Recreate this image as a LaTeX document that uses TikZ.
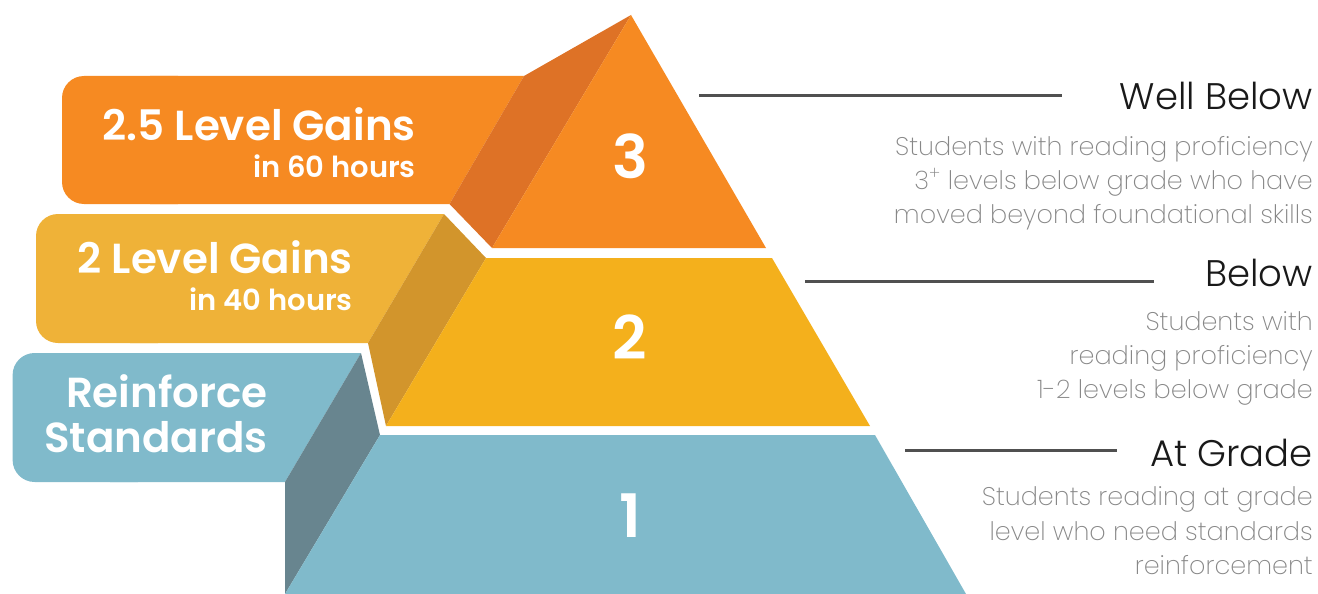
\documentclass[tikz,border=0pt]{standalone}
\usepackage{fontspec}
\usepackage{tikz}
\usetikzlibrary{positioning}
\newfontfamily\gainfont{Poppins}[UprightFont={* SemiBold}]
\newfontfamily\thinfont{Poppins}[UprightFont={* Light}]
\newfontfamily\hairfont{Poppins}[UprightFont={* ExtraLight}]
\definecolor{pyOrange}{RGB}{246,138,34}
\definecolor{pyOrangeDk}{RGB}{222,114,38}
\definecolor{pyYellow}{RGB}{244,176,28}
\definecolor{pyYellowBox}{RGB}{239,178,56}
\definecolor{pyYellowDk}{RGB}{210,149,44}
\definecolor{pyTeal}{RGB}{128,186,203}
\definecolor{pyTealDk}{RGB}{104,133,143}
\definecolor{pyLine}{RGB}{80,80,80}
\definecolor{pyGray}{RGB}{135,135,135}
\definecolor{pyInk}{RGB}{25,25,25}
\tikzset{
    gain/.style={font=\gainfont\fontsize{42}{44}\selectfont, text=white, inner sep=0pt, anchor=base east},
    hours/.style={font=\gainfont\fontsize{29}{31}\selectfont, text=white, inner sep=0pt, anchor=base east},
    tiernum/.style={font=\gainfont\fontsize{60}{60}\selectfont, text=white, inner sep=0pt},
    heading/.style={font=\thinfont\fontsize{37}{40}\selectfont, text=pyInk, inner sep=0pt, anchor=base east},
    blurb/.style={font=\hairfont\fontsize{25.5}{28}\selectfont, text=pyGray, inner sep=0pt, anchor=base east},
    leader/.style={draw=pyLine, line width=3pt},
    tab/.style={rounded corners=22pt}
}
\begin{document}
\begin{tikzpicture}[x=1pt, y=-1pt]
  \useasboundingbox (0,0) rectangle (1318,594);

  % Tabs on the left
  \fill[pyOrange, tab] (62,76) rectangle (200,204);
  \fill[pyOrange] (150,76) -- (524,76) -- (449.5,204) -- (150,204) -- cycle;
  \fill[pyYellowBox, tab] (36,214) rectangle (180,343);
  \fill[pyYellowBox] (130,214) -- (444,214) -- (368,343) -- (130,343) -- cycle;
  \fill[pyTeal, tab] (12.6,353) rectangle (160,482);
  \fill[pyTeal] (110,353) -- (361,353) -- (285,482) -- (110,482) -- cycle;

  % Side faces
  \fill[pyOrangeDk] (524,76) -- (631,15) -- (492,248) -- (449.5,204) -- cycle;
  \fill[pyYellowDk] (444,214) -- (486,258) -- (386,426) -- (368,343) -- cycle;
  \fill[pyTealDk] (361,353) -- (380,435) -- (285,594) -- (285,482) -- cycle;

  % Front faces
  \fill[pyOrange] (631,15) -- (766,248) -- (492,248) -- cycle;
  \fill[pyYellow] (486,258) -- (772,258) -- (870,426) -- (386,426) -- cycle;
  \fill[pyTeal] (380,435) -- (875,435) -- (966,594) -- (285,594) -- cycle;

  % Tier numbers
  \node[tiernum] (n3) at (630,156) {3};
  \node[tiernum] (n2) at (630,337) {2};
  \node[tiernum] (n1) at (630,516) {1};

  % Tab labels
  \node[gain] (g3) at (416,140) {2.5 Level Gains};
  \node[hours] (h3) at (416,177) {in 60 hours};
  \node[gain] (g2) at (353,273) {2 Level Gains};
  \node[hours] (h2) at (353,310) {in 40 hours};
  \node[gain] (r1) at (268,407) {Reinforce};
  \node[gain] (s1) at (268,452) {Standards};

  % Headings and leaders
  \node[heading] (wb) at (1313,110) {Well Below};
  \node[heading] (bl) at (1313,286) {Below};
  \node[heading] (ag) at (1313,466) {At Grade};
  \coordinate (wbL) at (699,96);
  \coordinate (wbR) at (1062,96);
  \coordinate (blL) at (805,281);
  \coordinate (blR) at (1154,281);
  \coordinate (agL) at (905,450);
  \coordinate (agR) at (1117,450);
  \draw[leader] (wbL) -- (wbR);
  \draw[leader] (blL) -- (blR);
  \draw[leader] (agL) -- (agR);

  % Descriptions
  \node[blurb] (wb1) at (1313,155) {Students with reading proficiency};
  \node[blurb] (wb2) at (1313,189) {3\textsuperscript{+} levels below grade who have};
  \node[blurb] (wb3) at (1313,223) {moved beyond foundational skills};
  \node[blurb] (bl1) at (1313,330) {Students with};
  \node[blurb] (bl2) at (1313,364) {reading proficiency};
  \node[blurb] (bl3) at (1313,398) {1-2 levels below grade};
  \node[blurb] (ag1) at (1313,505) {Students reading at grade};
  \node[blurb] (ag2) at (1313,540) {level who need standards};
  \node[blurb] (ag3) at (1313,574) {reinforcement};
\end{tikzpicture}
\end{document}
